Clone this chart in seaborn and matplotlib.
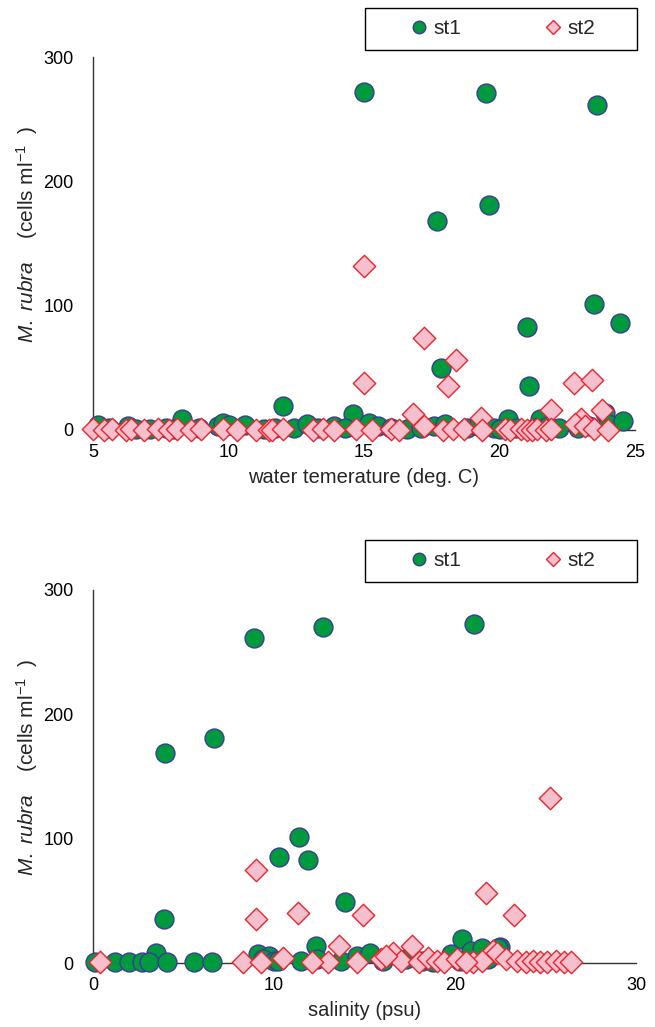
import matplotlib
matplotlib.use("Agg")
import matplotlib.pyplot as plt
import seaborn as sns
import pandas as pd
from matplotlib.lines import Line2D
from matplotlib.patches import Rectangle

sns.set_theme(style="white")
plt.rcParams['font.family'] = ['Liberation Sans', 'DejaVu Sans']
plt.rcParams['mathtext.fontset'] = 'custom'
plt.rcParams['mathtext.rm'] = 'Liberation Sans'
plt.rcParams['mathtext.it'] = 'Liberation Sans:italic'

# ---------------- data: water temperature panel ----------------
temp_st1_x = [15.0, 19.5, 23.6, 17.7, 19.6, 23.5, 24.45, 21.0, 17.85, 21.1, 12.0, 14.6,
              20.3, 21.5, 23.9, 8.3,
              5.2, 5.6, 6.3, 6.6, 7.1, 7.7, 8.0, 8.9, 9.6, 9.8, 10.0, 10.6, 11.3, 11.7,
              12.4, 12.9, 13.3, 13.9, 14.3, 15.2, 15.5, 16.0, 16.6, 17.1, 17.6, 18.0,
              18.8, 19.2, 19.8, 20.0, 20.6, 21.3, 21.8, 22.2, 22.9, 23.3, 24.0, 24.55]
temp_st1_y = [272, 271, 261, 168, 181, 101, 86, 83, 50, 35, 19, 13,
              9, 9, 14, 9,
              4, 2, 3, 1, 1, 2, 1, 2, 3, 6, 4, 4, 1, 2,
              2, 5, 2, 3, 2, 6, 3, 2, 1, 2, 3, 5,
              2, 3, 2, 1, 2, 2, 3, 2, 2, 3, 5, 7]
temp_st2_x = [15.0, 15.0, 17.2, 18.4, 18.1, 21.9, 22.75, 23.4, 16.8, 19.3, 23.8, 23.0,
              5.0, 5.4, 5.7, 6.2, 6.4, 6.9, 7.4, 7.8, 8.1, 8.6, 9.0, 9.8, 10.3, 11.0, 11.5,
              11.6, 12.0, 13.1, 13.5, 13.9, 14.7, 15.3, 16.0, 16.3, 17.2, 17.9, 18.3,
              18.7, 19.35, 20.2, 20.4, 20.8, 21.0, 21.2, 21.4, 21.7, 21.9, 22.8, 23.15,
              23.5, 24.0]
temp_st2_y = [132, 38, 74, 56, 35, 16, 38, 40, 13, 10, 16, 9,
              1, 0, 1, 0, 1, 0, 1, 0, 1, 0, 1, 1, 0, 0, 0,
              0, 1, 0, 1, 0, 1, 0, 1, 0, 3, 0, 1,
              1, 0, 1, 0, 1, 0, 0, 1, 0, 1, 5, 3,
              1, 0]

# ---------------- data: salinity panel ----------------
sal_st1_x = [8.9, 12.7, 21.05, 4.0, 6.7, 11.4, 10.3, 11.9, 3.9, 13.9, 20.4, 3.5, 12.3, 22.5,
             0.1, 1.2, 2.0, 2.7, 3.1, 4.1, 5.6, 6.6, 9.1, 9.7, 9.4, 10.0,
             10.2, 11.5, 12.4, 13.7, 14.6, 15.3, 16.0, 17.3, 18.2, 18.8, 19.8,
             20.3, 20.9, 21.5, 22.4, 21.8]
sal_st1_y = [261, 270, 273, 169, 181, 101, 85, 83, 35, 49, 19, 8, 14, 13,
             1, 1, 1, 1, 1, 1, 1, 1, 7, 6, 3, 2,
             2, 2, 3, 2, 6, 8, 2, 3, 2, 1, 7,
             2, 10, 12, 12, 3]
sal_st2_x = [25.25, 21.7, 23.25, 9.0, 9.0, 11.3, 14.9, 13.6, 17.6, 22.1,
             0.4, 8.3, 9.3, 10.5, 13.0, 14.6, 15.9, 16.6, 17.0, 18.0, 18.5, 19.0,
             19.4, 20.1, 21.0, 21.5, 22.3, 22.8, 23.4, 23.9, 24.3, 24.7, 25.1, 25.6,
             26.0, 26.4, 20.6, 16.2, 12.1]
sal_st2_y = [133, 56, 39, 75, 35, 40, 39, 14, 14, 10,
             1, 1, 1, 4, 1, 1, 3, 8, 2, 1, 4, 2,
             1, 3, 1, 2, 8, 3, 2, 1, 2, 1, 1, 2,
             1, 1, 1, 6, 1]

panels = [
    dict(x1=temp_st1_x, y1=temp_st1_y, x2=temp_st2_x, y2=temp_st2_y,
         xlim=(5, 25), xticks=[5, 10, 15, 20, 25], xlabel="water temerature (deg. C)"),
    dict(x1=sal_st1_x, y1=sal_st1_y, x2=sal_st2_x, y2=sal_st2_y,
         xlim=(0, 30), xticks=[0, 10, 20, 30], xlabel="salinity (psu)"),
]
yticks = [0, 100, 200, 300]
series_names = ["st1", "st2"]

W, H = 655, 1027
fig = plt.figure(figsize=(W / 100, H / 100), dpi=100)

axes_px = [(93, 57, 635, 430), (93, 590, 636, 963)]
legend_px = [(365, 8, 637, 50), (365, 540, 637, 582)]

green, green_edge = "#009a3e", "#3b3b96"
pink, pink_edge = "#f5bfcd", "#e8262d"
spine_c = "#333333"

for p, (l, t, r, b), (ll, lt, lr, lb) in zip(panels, axes_px, legend_px):
    ax = fig.add_axes([l / W, 1 - b / H, (r - l) / W, (b - t) / H])
    d1 = pd.DataFrame({"x": p["x1"], "y": p["y1"]})
    d2 = pd.DataFrame({"x": p["x2"], "y": p["y2"]})
    sns.scatterplot(data=d1, x="x", y="y", ax=ax, marker="o", s=185, color=green,
                    edgecolor=green_edge, linewidth=1.0, clip_on=False, zorder=3)
    sns.scatterplot(data=d2, x="x", y="y", ax=ax, marker="D", s=130, color=pink,
                    edgecolor=pink_edge, linewidth=1.0, clip_on=False, zorder=4)
    ax.set_xlim(*p["xlim"])
    ax.set_ylim(0, 300)
    ax.set_xticks(p["xticks"])
    ax.set_yticks(yticks)
    for s in ["top", "right"]:
        ax.spines[s].set_visible(False)
    for s in ["left", "bottom"]:
        ax.spines[s].set_color(spine_c)
        ax.spines[s].set_linewidth(1.0)
    ax.tick_params(axis="both", direction="in", length=4, width=1.0, color=spine_c,
                   labelsize=13, labelcolor="black")
    ax.tick_params(axis="y", pad=14)
    ax.tick_params(axis="x", pad=10)
    ax.set_xlabel(p["xlabel"], fontsize=14.5, labelpad=5)
    ax.set_ylabel(r"$\mathit{M.\ rubra}$    (cells ml$^{-1}$  )", fontsize=15)
    ax.yaxis.set_label_coords(-0.097, 0.525)
    ax.grid(False)
    ax.patch.set_alpha(0)

    # legend box
    fig.patches.append(Rectangle((ll / W, 1 - lb / H), (lr - ll) / W, (lb - lt) / H,
                                 transform=fig.transFigure, fill=True, facecolor="white",
                                 edgecolor="black", linewidth=1.0, zorder=5))
    handles = [
        Line2D([], [], linestyle="none", marker="o", markersize=9, markerfacecolor=green,
               markeredgecolor=green_edge, markeredgewidth=1.0),
        Line2D([], [], linestyle="none", marker="D", markersize=7.5, markerfacecolor=pink,
               markeredgecolor=pink_edge, markeredgewidth=1.0),
    ]
    leg = fig.legend(handles, series_names, loc="center", ncol=2,
                     bbox_to_anchor=((ll + lr) / 2 / W + 0.001, 1 - (lt + lb) / 2 / H),
                     borderaxespad=0, fontsize=15, frameon=False,
                     handletextpad=0.2, columnspacing=3.9, handlelength=1.0)
    leg.set_zorder(6)

fig.savefig("out.png", dpi=100)
